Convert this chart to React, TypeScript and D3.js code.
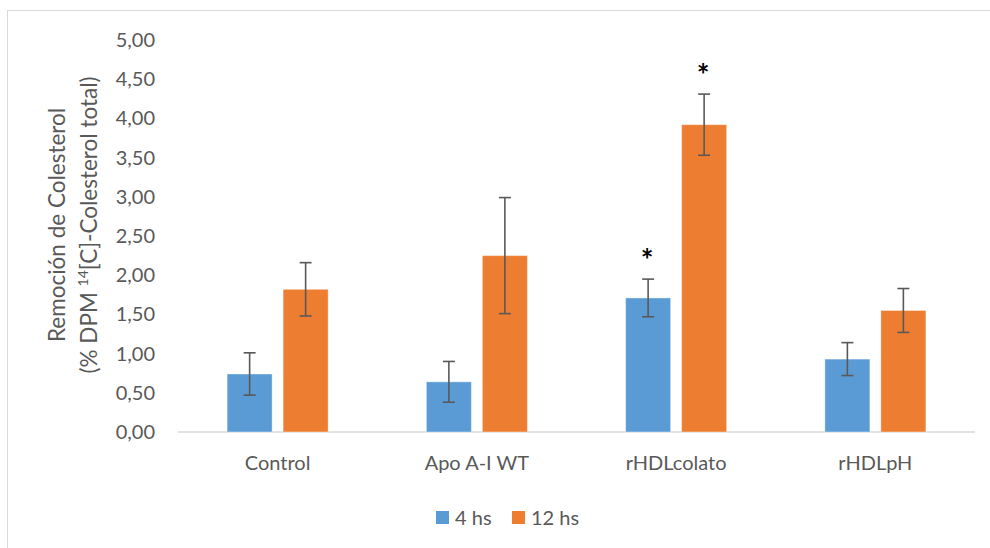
import React from "react";
import * as d3 from "d3";

const categories = ["Control", "Apo A-I WT", "rHDLcolato", "rHDLpH"];
const seriesNames = ["4 hs", "12 hs"];
const values4h = [0.74, 0.64, 1.71, 0.93];
const values12h = [1.82, 2.25, 3.92, 1.55];
const err4h = [0.27, 0.26, 0.24, 0.21];
const err12h = [0.34, 0.74, 0.39, 0.28];
const stars4h = [false, false, true, false];
const stars12h = [false, false, true, false];
const yTicks = [0, 0.5, 1, 1.5, 2, 2.5, 3, 3.5, 4, 4.5, 5];

const colors = ["#5B9BD5", "#ED7D31"];
const font = "Lato, 'Noto Sans', sans-serif";
const textColor = "#595959";

const App = () => {
  const width = 990;
  const height = 548;
  const plotLeft = 178;
  const plotRight = 975;
  const plotTop = 40;
  const plotBottom = 432;

  const x0 = d3.scaleBand().domain(categories).range([plotLeft, plotRight]);
  const x1 = d3
    .scaleBand()
    .domain(seriesNames)
    .range([0, x0.bandwidth()])
    .paddingInner(0.196)
    .paddingOuter(0.877);
  const y = d3.scaleLinear().domain([0, 5]).range([plotBottom, plotTop]);
  const fmt = (v: number) => d3.format(".2f")(v).replace(".", ",");

  const series = [
    { name: seriesNames[0], vals: values4h, errs: err4h, stars: stars4h },
    { name: seriesNames[1], vals: values12h, errs: err12h, stars: stars12h },
  ];

  return (
    <svg
      width={width}
      height={height}
      style={{ position: "absolute", left: 0, top: 0 }}
      fontFamily={font}
    >
      <rect x={0} y={0} width={width} height={height} fill="#fff" />
      <rect x={7.5} y={10.5} width={990} height={560} fill="none" stroke="#d9d9d9" />

      {yTicks.map((t) => (
        <text
          key={t}
          x={155}
          y={y(t)}
          dy="0.35em"
          textAnchor="end"
          fontSize={20}
          fill={textColor}
        >
          {fmt(t)}
        </text>
      ))}

      <line x1={plotLeft} x2={plotRight} y1={plotBottom} y2={plotBottom} stroke="#d9d9d9" strokeWidth={1.5} />

      {series.map((s, si) =>
        categories.map((c, ci) => {
          const bx = (x0(c) ?? 0) + (x1(s.name) ?? 0);
          const bw = x1.bandwidth();
          const cx = bx + bw / 2;
          const v = s.vals[ci];
          const e = s.errs[ci];
          return (
            <g key={`${si}-${ci}`}>
              <rect
                x={bx}
                y={y(v)}
                width={bw}
                height={plotBottom - y(v)}
                fill={colors[si]}
                stroke="#fff"
                strokeOpacity={0.4}
                strokeWidth={1}
              />
              <g stroke="#595959" strokeWidth={1.6}>
                <line x1={cx} x2={cx} y1={y(v + e)} y2={y(v - e)} />
                <line x1={cx - 6} x2={cx + 6} y1={y(v + e)} y2={y(v + e)} />
                <line x1={cx - 6} x2={cx + 6} y1={y(v - e)} y2={y(v - e)} />
              </g>
              {s.stars[ci] && (
                <text x={cx - 1} y={y(v + e) - 8} textAnchor="middle" fontSize={30} fontWeight="bold" fill="#000">
                  *
                </text>
              )}
            </g>
          );
        })
      )}

      {categories.map((c) => (
        <text
          key={c}
          x={(x0(c) ?? 0) + x0.bandwidth() / 2}
          y={470}
          textAnchor="middle"
          fontSize={20}
          fill={textColor}
        >
          {c}
        </text>
      ))}

      <g transform="translate(0,225) rotate(-90)" fill={textColor} fontSize={22.5}>
        <text x={0} y={65} textAnchor="middle">
          Remoción de Colesterol
        </text>
        <text x={0} y={97} textAnchor="middle">
          (% DPM <tspan fontSize={14} dy={-9}>14</tspan>
          <tspan dy={9}>[C]-Colesterol total)</tspan>
        </text>
      </g>

      <g fontSize={20} fill={textColor}>
        <rect x={436} y={511} width={13} height={13} fill={colors[0]} />
        <text x={455} y={525}>{seriesNames[0]}</text>
        <rect x={512} y={511} width={13} height={13} fill={colors[1]} />
        <text x={531} y={525}>{seriesNames[1]}</text>
      </g>
    </svg>
  );
};

export default App;
